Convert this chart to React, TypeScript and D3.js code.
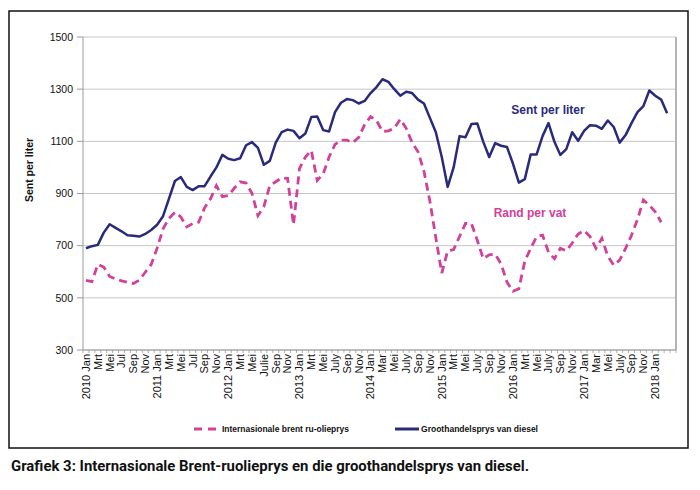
import React from 'react';
import * as d3 from 'd3';

// monthly data, Jan 2010 onwards
const dieselCents = [
  690, 698, 703, 750, 782, 768, 755, 740, 738, 735, 745, 760,
  780, 813, 880, 948, 963, 925, 913, 928, 928, 965, 1000, 1048,
  1033, 1028, 1035, 1085, 1097, 1075, 1010, 1025, 1095, 1135, 1145, 1140,
  1112, 1130, 1193, 1195, 1143, 1138, 1212, 1248, 1262, 1258, 1245, 1255,
  1285, 1308, 1338, 1328, 1300, 1275, 1290, 1285, 1260, 1245, 1190, 1135,
  1040, 925, 1000, 1120, 1116, 1166, 1168, 1098, 1040, 1093, 1083, 1078,
  1015, 942, 955, 1050, 1050, 1120, 1170, 1098, 1048, 1070, 1135, 1102,
  1140, 1162, 1160, 1148, 1180, 1155, 1095, 1124, 1170, 1212, 1235, 1295,
  1275, 1260, 1208,
];

const brentRand = [
  567, 562, 628, 618, 582, 572, 565, 560, 555, 568, 598, 628,
  690, 765, 805, 828, 810, 772, 785, 790, 845, 880, 930, 888,
  892, 920, 945, 940, 900, 815, 850, 930, 945, 960, 958, 780,
  995, 1040, 1065, 950, 975, 1040, 1088, 1105, 1105, 1095, 1115, 1165,
  1195, 1180, 1138, 1140, 1150, 1185, 1150, 1095, 1060, 985, 870, 730,
  595, 680, 685, 735, 785, 785, 720, 650, 665, 668, 630, 560,
  525, 535, 640, 690, 735, 740, 675, 650, 690, 680, 710, 745,
  758, 735, 690, 728, 660, 625, 645, 690, 740, 800, 875, 855,
  830, 790,
];

// tick labels, one per two months
const tickLabels = [
  '2010 Jan', 'Mrt', 'Mei', 'Jul', 'Sep', 'Nov',
  '2011 Jan', 'Mrt', 'Mei', 'Jul', 'Sep', 'Nov',
  '2012 Jan', 'Mrt', 'Mei', 'Julie', 'Sep', 'Nov',
  '2013 Jan', 'Mrt', 'Mei', 'July', 'Sep', 'Nov',
  '2014 Jan', 'Mar', 'Mei', 'July', 'Sep', 'Nov',
  '2015 Jan', 'Mrt', 'Mei', 'July', 'Sep', 'Nov',
  '2016 Jan', 'Mrt', 'Mei', 'July', 'Sep', 'Nov',
  '2017 Jan', 'Mar', 'Mei', 'July', 'Sep', 'Nov',
  '2018 Jan',
];

const yTicks = [300, 500, 700, 900, 1100, 1300, 1500];
const monthCount = 100;

const NAVY = '#2a2a7c';
const PINK = '#d1419a';
const FONT = '"Liberation Sans", Arial, sans-serif';

const App: React.FC = () => {
  const left = 83;
  const right = 676;
  const top = 37;
  const bottom = 350;

  const months = d3.range(monthCount);
  const x = d3.scalePoint<number>().domain(months).range([left, right]).padding(0.5);
  const step = x.step();
  const y = d3.scaleLinear().domain([300, 1500]).range([bottom, top]);

  const line = d3.line<number>()
    .x((_, i) => x(i) as number)
    .y(d => y(d));

  return (
    <div>
      <style>{'body{margin:0}'}</style>
      <svg width={700} height={490} style={{ display: 'block', fontFamily: FONT }}>
        <rect x={0} y={0} width={700} height={490} fill="#fff" />
        <rect x={9} y={11} width={679} height={437} fill="none" stroke="#111" strokeWidth={1.5} />

        {/* grid */}
        {yTicks.map(t => (
          <g key={t}>
            <line x1={left} x2={right} y1={y(t)} y2={y(t)} stroke="#c6c6c6" strokeWidth={1} />
            <line x1={left - 6} x2={left} y1={y(t)} y2={y(t)} stroke="#9a9a9a" strokeWidth={1} />
            <text x={73} y={y(t)} dy="0.35em" textAnchor="end" fontSize={10.5} fill="#111">{t}</text>
          </g>
        ))}
        <line x1={right} x2={right} y1={top} y2={bottom} stroke="#b4b4b4" strokeWidth={2} />
        <line x1={left} x2={left} y1={top} y2={bottom} stroke="#9a9a9a" strokeWidth={1} />
        <line x1={left} x2={right} y1={bottom} y2={bottom} stroke="#9a9a9a" strokeWidth={1.2} />

        {/* month ticks */}
        {d3.range(monthCount + 1).map(i => (
          <line key={i} x1={left + i * step} x2={left + i * step} y1={bottom} y2={bottom + 3}
            stroke="#9a9a9a" strokeWidth={0.8} />
        ))}

        {tickLabels.map((lab, k) => {
          const xp = x(k * 2) as number;
          return (
            <text key={k} transform={`translate(${xp},${bottom + 4}) rotate(-90)`} dy="0.35em"
              textAnchor="end" fontSize={11} fill="#111">{lab}</text>
          );
        })}

        <text transform="translate(29,170) rotate(-90)" dy="0.35em" textAnchor="middle"
          fontSize={10.5} fontWeight="bold" fill="#111">Sent per liter</text>

        {/* series */}
        <path d={line(brentRand) ?? ''} fill="none" stroke={PINK} strokeWidth={2.8}
          strokeDasharray="8 5" />
        <path d={line(dieselCents) ?? ''} fill="none" stroke={NAVY} strokeWidth={2.5}
          strokeLinejoin="round" />

        <text x={548} y={110} dy="0.35em" textAnchor="middle" fontSize={12} fontWeight="bold"
          fill={NAVY}>Sent per liter</text>
        <text x={530} y={213} dy="0.35em" textAnchor="middle" fontSize={12} fontWeight="bold"
          fill={PINK}>Rand per vat</text>

        {/* legend */}
        <line x1={194} x2={219} y1={429} y2={429} stroke={PINK} strokeWidth={3} strokeDasharray="8 6" />
        <text x={222} y={429} dy="0.35em" fontSize={9} fontWeight="bold" fill="#111"
          textLength={127} lengthAdjust="spacingAndGlyphs">Internasionale brent ru-olieprys</text>
        <line x1={395} x2={419} y1={429} y2={429} stroke={NAVY} strokeWidth={3} />
        <text x={421} y={429} dy="0.35em" fontSize={9} fontWeight="bold" fill="#111"
          textLength={117} lengthAdjust="spacingAndGlyphs">Groothandelsprys van diesel</text>

        <text x={11} y={471} fontSize={15} fontWeight="bold" fill="#111"
          textLength={518} lengthAdjust="spacingAndGlyphs"
          style={{ fontFamily: '"Liberation Sans Narrow", "Arial Narrow", Roboto, sans-serif' }}>
          Grafiek 3: Internasionale Brent-ruolieprys en die groothandelsprys van diesel.
        </text>
      </svg>
    </div>
  );
};

export default App;
